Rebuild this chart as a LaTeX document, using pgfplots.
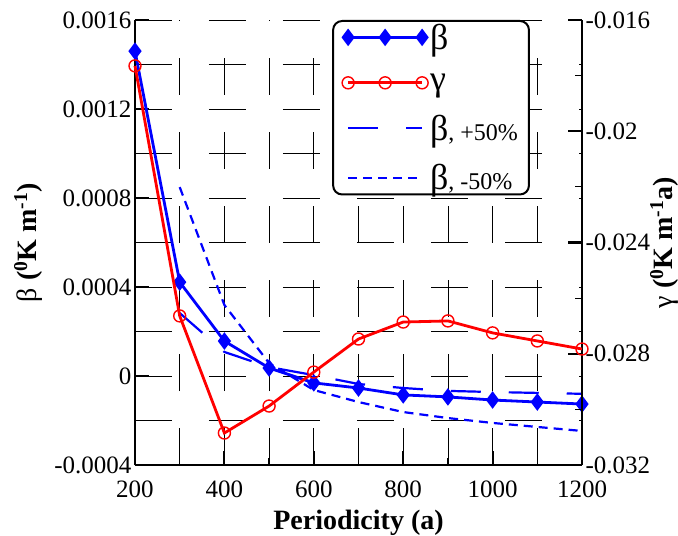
\documentclass[border=0pt]{standalone}
\usepackage{fontspec}
\setmainfont{Liberation Serif}
\usepackage{pgfplots}
\pgfplotsset{compat=1.18}
\begin{document}
\begin{tikzpicture}
\pgfplotsset{
  every axis/.append style={
    scale only axis, width=447bp, height=445bp,
    xmin=200, xmax=1200, clip=false,
    scaled y ticks=false, scaled x ticks=false,
    tick label style={font=\fontsize{25bp}{30bp}\selectfont},
    label style={font=\fontsize{28bp}{33bp}\selectfont},
    major tick length=14bp, minor tick length=7bp,
    tick align=inside,
    every major tick/.style={line width=2.2bp, black},
    every minor tick/.style={line width=1.2bp, black},
    axis line style={line width=2.2bp},
  },
  lbeta/.style={blue, line width=2.8bp, mark=diamond*, mark size=6.5bp, mark options={solid}},
  lgamma/.style={red, line width=2.8bp, mark=o, mark size=6bp, mark options={solid, line width=1.4bp}},
  lplus/.style={blue, line width=2.2bp, dash pattern=on 30bp off 28bp},
  lminus/.style={blue, line width=2.2bp, dash pattern=on 9bp off 6bp},
}
\begin{axis}[
  axis x line*=bottom, axis y line*=left,
  ymin=-0.0004, ymax=0.0016,
  xtick={200,400,...,1200}, xticklabels={200,400,600,800,1000,1200},
  minor xtick={300,500,...,1100},
  xticklabel shift=12bp,
  ytick={-0.0004,0,0.0004,0.0008,0.0012,0.0016},
  yticklabels={-0.0004,0,0.0004,0.0008,0.0012,0.0016},
  minor ytick={-0.0002,0.0002,0.0006,0.001,0.0014},
  grid=both,
  major grid style={black, line width=0.8bp, dash pattern=on 37bp off 37bp},
  minor grid style={black, line width=0.8bp, dash pattern=on 37bp off 37bp},
  xlabel={\textbf{Periodicity (a)}},
  xlabel style={inner sep=0pt},
  xlabel shift=9bp,
  ylabel={β \textbf{(\textsuperscript{0}K m\textsuperscript{-1})}},
  every axis y label/.style={at={(axis description cs:0,0.5)}, xshift=-107bp, anchor=center, rotate=90,
    inner sep=0pt, font=\fontsize{28bp}{33bp}\selectfont},
]
\coordinate (O) at (rel axis cs:0,0);
\addplot[lplus] coordinates {
(300,0.000283) (400,0.000108) (500,0.00004) (600,0.000004) (700,-0.000036)
(800,-0.000054) (900,-0.000067) (1000,-0.000072) (1100,-0.000076) (1200,-0.00008)};
\addplot[lminus] coordinates {
(300,0.000849) (400,0.000319) (500,0.000058) (600,-0.000063) (700,-0.000117)
(800,-0.000162) (900,-0.000189) (1000,-0.000211) (1100,-0.000229) (1200,-0.000247)};
\addplot[lbeta] coordinates {
(200,0.00146) (300,0.000422) (400,0.000157) (500,0.000036) (600,-0.000031)
(700,-0.000054) (800,-0.000085) (900,-0.000094) (1000,-0.000108) (1100,-0.000117) (1200,-0.000126)};
\end{axis}
\begin{axis}[
  axis x line=none, axis y line*=right,
  ymin=-0.032, ymax=-0.016,
  ytick={-0.032,-0.028,-0.024,-0.02,-0.016},
  yticklabels={-0.032,-0.028,-0.024,-0.02,-0.016},
  minor ytick={-0.03,-0.026,-0.022,-0.018},
  ylabel={γ \textbf{(\textsuperscript{0}K m\textsuperscript{-1}a)}},
  every axis y label/.style={at={(axis description cs:1,0.5)}, xshift=82bp, anchor=center, rotate=90,
    inner sep=0pt, font=\fontsize{28bp}{33bp}\selectfont},
  legend image code/.code={\draw[sharp corners,#1] plot coordinates {(0bp,0bp) (37bp,0bp) (74bp,0bp)};},
  legend style={at={(axis description cs:0.441,1)}, anchor=north west, draw=black, line width=2bp,
    rounded corners=9bp, font=\fontsize{36bp}{40bp}\selectfont, row sep=19bp,
    inner xsep=9bp, inner ysep=1bp},
  legend cell align=left,
]
\addlegendimage{lbeta}
\addlegendentry{β}
\addplot[lgamma] coordinates {
(200,-0.01765) (300,-0.02664) (400,-0.03085) (500,-0.02988) (600,-0.02866)
(700,-0.02747) (800,-0.02686) (900,-0.02682) (1000,-0.02725) (1100,-0.02754) (1200,-0.02783)};
\addlegendentry{γ}
\addlegendimage{lplus}
\addlegendentry{β{\fontsize{24bp}{28bp}\selectfont, +50\%}}
\addlegendimage{lminus}
\addlegendentry{β{\fontsize{24bp}{28bp}\selectfont, -50\%}}
\end{axis}
\path (O) ++(-135bp,-65bp) rectangle ++(678bp,530bp);
\end{tikzpicture}
\end{document}
